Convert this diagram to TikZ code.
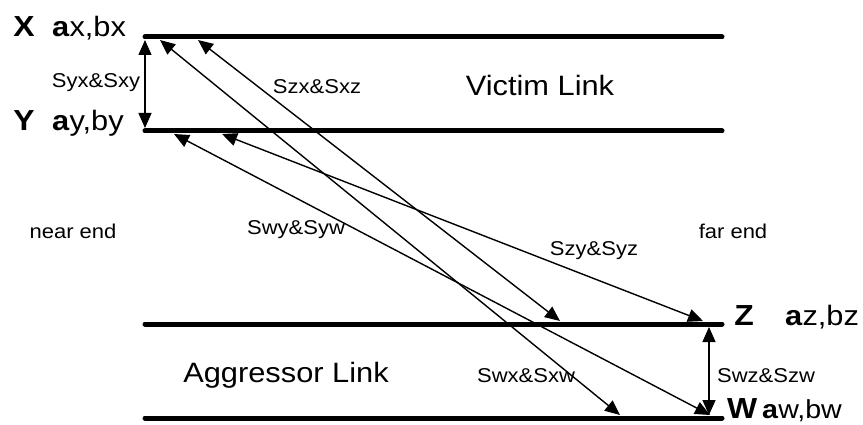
\documentclass[tikz,border=0pt]{standalone}
\usepackage{fontspec}
\setmainfont[FakeStretch=1.1]{Liberation Sans}
\usetikzlibrary{arrows.meta}
\begin{document}
\begin{tikzpicture}[x=1pt,y=-1pt,
  wire/.style={line width=5pt,line cap=round},
  sig/.style={line width=1.4pt,{Triangle[length=15pt,width=13pt]}-{Triangle[length=15pt,width=13pt]}},
  big/.style={font=\fontsize{28}{32}\selectfont,inner sep=0pt},
  bigb/.style={font=\fontsize{29}{32}\selectfont\bfseries,inner sep=0pt},
  small/.style={font=\fontsize{20}{24}\selectfont,inner sep=0pt}]
\useasboundingbox (0,0) rectangle (863,425);

% transmission lines
\coordinate (xl) at (145,37);  \coordinate (xr) at (722,37);
\coordinate (yl) at (145,131); \coordinate (yr) at (722,131);
\coordinate (zl) at (145,324); \coordinate (zr) at (722,324);
\coordinate (wl) at (145,418); \coordinate (wr) at (722,418);
\draw[wire] (xl) -- (xr);
\draw[wire] (yl) -- (yr);
\draw[wire] (zl) -- (zr);
\draw[wire] (wl) -- (wr);

% coupling end points
\coordinate (xa) at (145,40);  \coordinate (ya) at (145,128);
\coordinate (za) at (709,327); \coordinate (wa) at (709,415);
\coordinate (x1) at (160,40);  \coordinate (w1) at (620,415);
\coordinate (x2) at (198,40);  \coordinate (z2) at (560,321);
\coordinate (y1) at (174,134); \coordinate (w2) at (710,415);
\coordinate (y2) at (222,134); \coordinate (z1) at (703,321);

\draw[sig] (xa) -- (ya);
\draw[sig] (za) -- (wa);
\draw[sig] (x1) -- (w1);
\draw[sig] (x2) -- (z2);
\draw[sig] (y1) -- (w2);
\draw[sig] (y2) -- (z1);

% port names
\node[bigb,anchor=base] (nx) at (24,37) {X};
\node[big,anchor=base west] (px) at (52,37) {\textbf{a}x,bx};
\node[bigb,anchor=base] (ny) at (24,131) {Y};
\node[big,anchor=base west] (py) at (52,131) {\textbf{a}y,by};
\node[bigb,anchor=base] (nz) at (744,325) {Z};
\node[big,anchor=base west] (pz) at (785,325) {\textbf{a}z,bz};
\node[bigb,anchor=base west] (nw) at (727,418) {W};
\node[big,anchor=base west,font=\fontsize{26}{30}\selectfont] (pw) at (762,418) {\textbf{a}w,bw};

% link names
\node[big,anchor=base] (vl) at (540,96) {Victim Link};
\node[big,anchor=base] (al) at (286,382) {Aggressor Link};

% coupling labels
\node[small,anchor=base] (lxy) at (96,88) {Syx\&Sxy};
\node[small,anchor=base] (lzx) at (317,94) {Szx\&Sxz};
\node[small,anchor=base] (lwy) at (296,234) {Swy\&Syw};
\node[small,anchor=base] (lzy) at (594,255) {Szy\&Syz};
\node[small,anchor=base] (lwx) at (526,382) {Swx\&Sxw};
\node[small,anchor=base] (lwz) at (766,382) {Swz\&Szw};

\node[small,anchor=base] (ne) at (73,238) {near end};
\node[small,anchor=base] (fe) at (733,238) {far end};
\end{tikzpicture}
\end{document}
